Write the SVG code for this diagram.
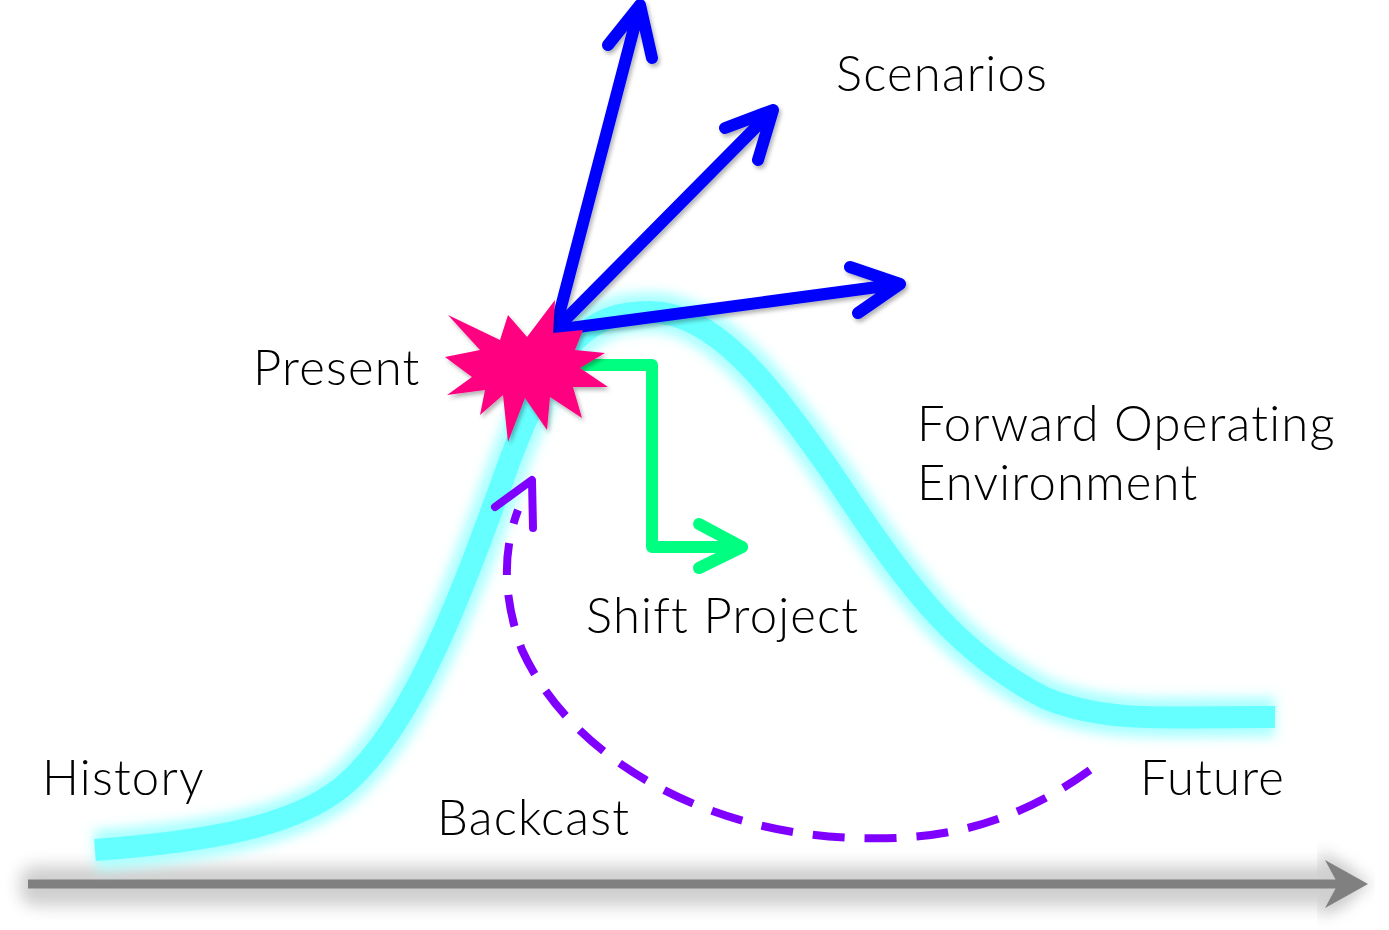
<svg xmlns="http://www.w3.org/2000/svg" width="1389" height="930" viewBox="0 0 1389 930">
<style>
.lbl{font-family:Lato,"Open Sans","Liberation Sans",sans-serif;font-size:49px;font-weight:300;letter-spacing:1.2px;fill:#000}
.blue{fill:none;stroke:#0000FF;stroke-width:12;stroke-linecap:round;stroke-linejoin:round}
.green{fill:none;stroke:#00FF80;stroke-width:12;stroke-linecap:round;stroke-linejoin:round}
.purple{fill:none;stroke:#8000FF;stroke-width:8;stroke-linejoin:round}
</style>
<defs>
<filter id="glow" x="-10%" y="-10%" width="120%" height="120%"><feGaussianBlur stdDeviation="6"/></filter>
<filter id="shadow" x="-10%" y="-10%" width="120%" height="120%"><feDropShadow dx="2" dy="3" stdDeviation="2" flood-color="#000" flood-opacity="0.3"/></filter>
<filter id="axblur" x="-5%" y="-100%" width="110%" height="300%"><feGaussianBlur stdDeviation="8"/></filter>
</defs>
<rect width="1389" height="930" fill="#fff"/>
<g id="axis">
<rect x="20" y="866" width="1330" height="40" rx="15" fill="#cfcfcf" filter="url(#axblur)"/>
<path d="M1320,850 L1372,884 L1320,918 Z" fill="#cfcfcf" filter="url(#axblur)"/>
<path d="M28,884 L1345,884" stroke="#808080" stroke-width="9"/>
<path d="M1325,860 L1368,884 L1325,908 L1338,884 Z" fill="#808080"/>
</g>
<g id="curve">
<path d="M95,850 C200,842 300,828 350,780 C420,715 470,570 510,460 C555,340 590,312 650,312 C715,312 770,385 830,470 C900,575 950,650 1045,698 C1110,725 1180,716 1275,717" fill="none" stroke="#aaffff" stroke-width="40" filter="url(#glow)"/>
<path d="M95,850 C200,842 300,828 350,780 C420,715 470,570 510,460 C555,340 590,312 650,312 C715,312 770,385 830,470 C900,575 950,650 1045,698 C1110,725 1180,716 1275,717" fill="none" stroke="#66FFFF" stroke-width="22"/>
</g>
<g id="connectors">
<g id="scenario-arrows" filter="url(#shadow)">
<path class="blue" d="M555,330 L640,5 M608,45 L640,5 L652,58"/>
<path class="blue" d="M555,330 L773,110 M725,128 L773,110 L758,160"/>
<path class="blue" d="M555,330 L900,284 M850,267 L900,284 L858,313"/>
</g>
<g id="shift-arrow">
<path class="green" d="M585,365 L652,365 L652,547 L742,547"/>
<path class="green" d="M699,524 L742,547 L699,568"/>
</g>
<g id="backcast-arrow">
<path class="purple" stroke-dasharray="32 20" d="M1090,770 C1000,835 920,840 855,838 C700,833 570,755 522,650 C500,590 505,545 518,510"/>
<path class="purple" stroke-linecap="round" d="M495,507 L532,480 L533,528"/>
</g>
</g>
<g id="present-star" filter="url(#shadow)">
<polygon fill="#FF0080" points="448,315 500,340 508,315 527,337 555,300 553,333 583,330 575,350 605,353 580,368 608,387 573,387 582,418 550,397 547,430 525,398 508,442 503,395 480,415 485,390 447,395 472,377 445,357 480,350"/>
</g>
<g id="labels">
<text class="lbl" x="836" y="91">Scenarios</text>
<text class="lbl" x="253" y="385">Present</text>
<text class="lbl" x="917" y="441">Forward Operating</text>
<text class="lbl" x="917" y="500">Environment</text>
<text class="lbl" x="586" y="633">Shift Project</text>
<text class="lbl" x="42" y="795">History</text>
<text class="lbl" x="437" y="835">Backcast</text>
<text class="lbl" x="1140" y="795">Future</text>
</g>
</svg>
